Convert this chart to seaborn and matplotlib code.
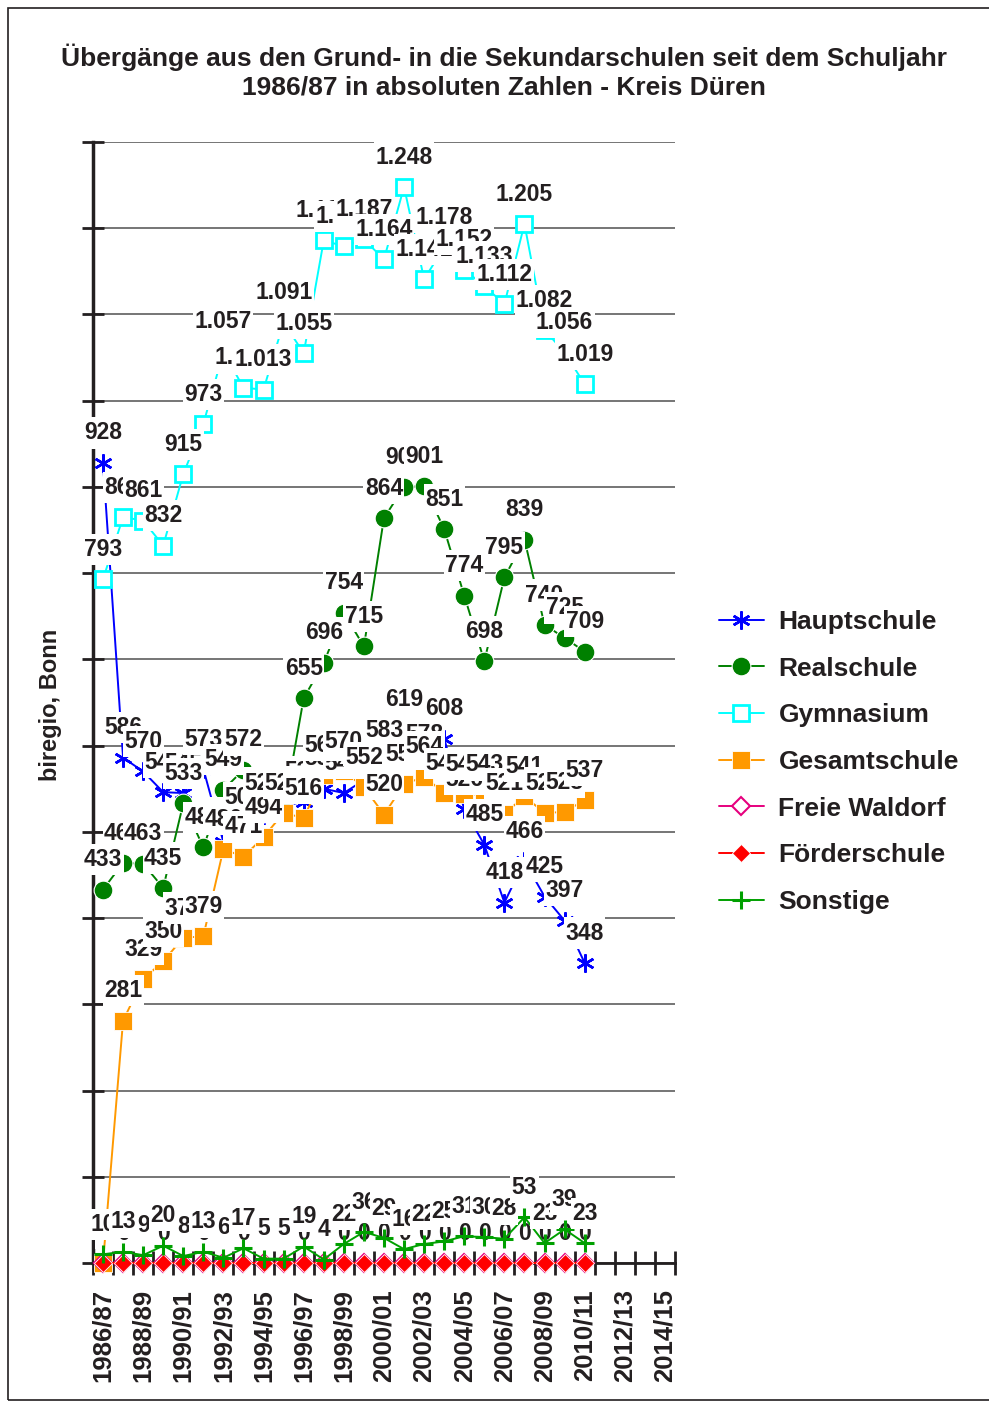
import numpy as np
import pandas as pd
import matplotlib
matplotlib.use("Agg")
import matplotlib.pyplot as plt
import seaborn as sns
from matplotlib.ticker import FixedLocator
from matplotlib.patches import Rectangle

# ---------------- data ----------------
schuljahre = ["1986/87", "1987/88", "1988/89", "1989/90", "1990/91", "1991/92",
              "1992/93", "1993/94", "1994/95", "1995/96", "1996/97", "1997/98",
              "1998/99", "1999/00", "2000/01", "2001/02", "2002/03", "2003/04",
              "2004/05", "2005/06", "2006/07", "2007/08", "2008/09", "2009/10",
              "2010/11", "2011/12", "2012/13", "2013/14", "2014/15"]
tick_labels = ["1986/87", "1988/89", "1990/91", "1992/93", "1994/95", "1996/97",
               "1998/99", "2000/01", "2002/03", "2004/05", "2006/07", "2008/09",
               "2010/11", "2012/13", "2014/15"]

hauptschule = [928, 586, 570, 546, 545, 573, 488, 505, 520, 530, 535, 550, 545,
               560, 583, 619, 578, 608, 526, 485, 418, 466, 425, 397, 348]
realschule = [433, 464, 463, 435, 533, 482, 549, 572, 522, 524, 655, 696, 754,
              715, 864, 900, 901, 851, 774, 698, 795, 839, 740, 725, 709]
gymnasium = [793, 865, 861, 832, 915, 973, 1057, 1015, 1013, 1091, 1055, 1186,
             1179, 1187, 1164, 1248, 1141, 1178, 1152, 1133, 1112, 1205, 1082,
             1056, 1019]
gesamtschule = [0, 281, 329, 350, 377, 379, 480, 471, 494, 522, 516, 566, 570,
                552, 520, 555, 564, 545, 544, 543, 521, 541, 522, 523, 537]
freie_waldorf = [0, 0, 0, 0, 0, 0, 0, 0, 0, 0, 0, 0, 0, 0, 0, 0, 0, 0, 0, 0, 0,
                 0, 0, 0, 0]
foerderschule = [0, 0, 0, 0, 0, 0, 0, 0, 0, 0, 0, 0, 0, 0, 0, 0, 0, 0, 0, 0, 0,
                 0, 0, 0, 0]
sonstige = [10, 13, 9, 20, 8, 13, 6, 17, 5, 5, 19, 4, 22, 36, 29, 16, 22, 25, 31,
            30, 28, 53, 23, 39, 23]

series_names = ["Hauptschule", "Realschule", "Gymnasium", "Gesamtschule",
                "Freie Waldorf", "Förderschule", "Sonstige"]
series_values = [hauptschule, realschule, gymnasium, gesamtschule,
                 freie_waldorf, foerderschule, sonstige]

styles = {
    "Hauptschule": dict(color="#0000FF", marker=(6, 2, 0), markersize=13,
                        markeredgewidth=1.8, markerfacecolor="#0000FF",
                        markeredgecolor="#0000FF"),
    "Realschule": dict(color="#008000", marker="o", markersize=13.5,
                       markerfacecolor="#008000", markeredgecolor="white",
                       markeredgewidth=0.8),
    "Gymnasium": dict(color="#00FFFF", marker="s", markersize=12,
                      markerfacecolor="white", markeredgecolor="#00FFFF",
                      markeredgewidth=2),
    "Gesamtschule": dict(color="#FF9900", marker="s", markersize=12.5,
                         markerfacecolor="#FF9900", markeredgecolor="white",
                         markeredgewidth=0.6),
    "Freie Waldorf": dict(color="#E6007E", marker="D", markersize=9,
                          markerfacecolor="white", markeredgecolor="#E6007E",
                          markeredgewidth=1.5),
    "Förderschule": dict(color="#FF0000", marker="D", markersize=9.5,
                         markerfacecolor="#FF0000", markeredgecolor="white",
                         markeredgewidth=0.6),
    "Sonstige": dict(color="#00A000", marker="+", markersize=13.5,
                     markeredgewidth=2.2, markeredgecolor="#00A000",
                     markerfacecolor="#00A000"),
}

# ---------------- figure ----------------
sns.set_style("white")
plt.rcParams["font.family"] = ["Liberation Sans", "DejaVu Sans"]

fig = plt.figure(figsize=(9.89, 14.05), dpi=100)
ax = fig.add_axes([0.094, 0.1011, 0.5885, 0.7978])

for z, (name, vals) in enumerate(zip(series_names, series_values)):
    df = pd.DataFrame({"x": np.arange(len(vals)), "y": vals})
    st = styles[name]
    sns.lineplot(data=df, x="x", y="y", ax=ax, estimator=None, sort=False,
                 linewidth=1.4, label=name, zorder=3 + z, clip_on=False, **st)

# data labels (white boxes); zero labels sit beneath the marks
label_font = dict(family=["Liberation Sans", "DejaVu Sans"],
                  weight="bold", size=16.5)
for name, vals in zip(series_names, series_values):
    for i, v in enumerate(vals):
        txt = f"{v:,}".replace(",", ".")
        ax.annotate(txt, (i, v), xytext=(0, 21.5), textcoords="offset points",
                    ha="center", va="center", color="#231F20",
                    zorder=2.5 if v == 0 else 30,
                    annotation_clip=False,
                    bbox=dict(boxstyle="square,pad=0.06", mutation_aspect=3,
                              fc="white", ec="none"),
                    **label_font)

# axes styling
ax.set_xlim(-0.5, 28.5)
ax.set_ylim(0, 1300)
ax.set_xlabel("")
ax.set_ylabel("")
for s in ["top", "right"]:
    ax.spines[s].set_visible(False)
ax.spines["left"].set_linewidth(2.5)
ax.spines["left"].set_color("#231F20")
ax.spines["bottom"].set_linewidth(2)
ax.spines["bottom"].set_color("#231F20")
ax.spines["left"].set_zorder(2)

ax.set_yticks(np.arange(0, 1301, 100))
ax.set_yticklabels([])
ax.tick_params(axis="y", which="major", direction="inout", length=16, width=2,
               color="#231F20", left=True)
ax.yaxis.grid(True, color="#5E5E5E", linewidth=1.2)
ax.set_axisbelow(True)

major_pos = [schuljahre.index(t) for t in tick_labels]
ax.xaxis.set_major_locator(FixedLocator(major_pos))
ax.set_xticklabels(tick_labels, rotation=90, fontsize=18.5, fontweight="bold",
                   color="#231F20")
ax.tick_params(axis="x", which="major", length=0, pad=19)
ax.xaxis.set_minor_locator(FixedLocator(np.arange(-0.5, 28.6, 1.0)))
ax.tick_params(axis="x", which="minor", direction="inout", length=17, width=2,
               color="#231F20", bottom=True)

# legend
handles, labels = ax.get_legend_handles_labels()
leg = ax.legend(handles, labels, loc="center left",
                bbox_to_anchor=(0.727, 0.4577), bbox_transform=fig.transFigure,
                frameon=False, prop=dict(weight="bold", size=19),
                handlelength=1.7, handletextpad=0.55, labelspacing=0.86,
                borderpad=0, borderaxespad=0)
for t in leg.get_texts():
    t.set_color("#231F20")

# title and y label
fig.text(0.510, 0.9594, "Übergänge aus den Grund- in die Sekundarschulen seit dem Schuljahr",
         ha="center", va="center", fontsize=19, fontweight="bold", color="#231F20")
fig.text(0.510, 0.9374, "1986/87 in absoluten Zahlen - Kreis Düren",
         ha="center", va="center", fontsize=19, fontweight="bold", color="#231F20")
fig.text(0.0506, 0.498, "biregio, Bonn", rotation=90, ha="center", va="center",
         fontsize=17, fontweight="bold", color="#231F20")

# outer frame
fig.add_artist(Rectangle((0.0081, 0.0036), 1.2, 0.9907, transform=fig.transFigure,
                         fill=False, ec="#231F20", lw=1.2))

fig.savefig("out.png", dpi=100)
